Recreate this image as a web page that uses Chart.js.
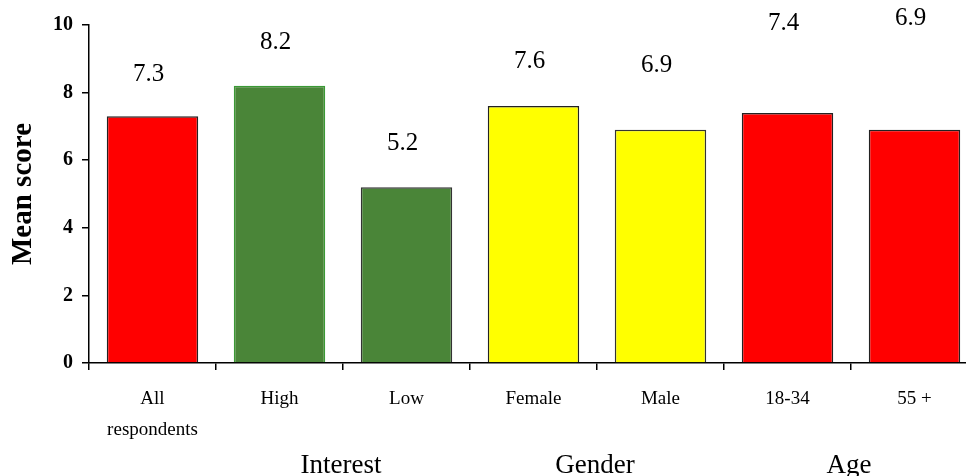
<!DOCTYPE html>
<html>
<head>
<meta charset="utf-8">
<script src="https://cdn.jsdelivr.net/npm/chart.js@4/dist/chart.umd.min.js"></script>
<style>
  html, body { margin: 0; padding: 0; background: #fff; overflow: hidden; }
  #wrap { width: 980px; height: 476px; }
</style>
</head>
<body>
<div id="wrap"><canvas id="chart"></canvas></div>
<script>
// categories and values
const categories = [["All", "respondents"], "High", "Low", "Female", "Male", "18-34", "55 +"];
const scores = [7.3, 8.2, 5.2, 7.6, 6.9, 7.4, 6.9];
const yTicks = [0, 2, 4, 6, 8, 10];

// where each value label sits, in score units (they float above the bars)
const labelAt = [8.55, 9.47, 6.51, 8.91, 8.79, 10.06, 10.19];

// group captions under the axis, with the category indexes they span
const groups = [
  { name: "Interest", from: 1, to: 2 },
  { name: "Gender", from: 3, to: 4 },
  { name: "Age", from: 5, to: 6 }
];

const barColors = ["#ff0000", "#4a8538", "#4a8538", "#ffff00", "#ffff00", "#ff0000", "#ff0000"];
const barBorders = ["#222", "#3a9a35", "#333", "#222", "#333", "#222", "#222"];

const SERIF = "'Liberation Serif', 'Times New Roman', serif";

// value labels + group captions
const extraText = {
  id: "extraText",
  afterDraw(chart) {
    const ctx = chart.ctx;
    const x = chart.scales.x;
    const y = chart.scales.y;
    ctx.save();
    ctx.fillStyle = "#000";
    ctx.textAlign = "center";
    ctx.textBaseline = "middle";
    ctx.font = "25px " + SERIF;
    scores.forEach((v, i) => {
      ctx.fillText(v.toFixed(1), x.getPixelForValue(i) - 4, y.getPixelForValue(labelAt[i]));
    });
    ctx.font = "27px " + SERIF;
    groups.forEach(g => {
      const cx = (x.getPixelForValue(g.from) + x.getPixelForValue(g.to)) / 2;
      ctx.fillText(g.name, cx - 2, chart.chartArea.bottom + 103);
    });
    ctx.restore();
  }
};

new Chart(document.getElementById("chart"), {
  type: "bar",
  data: {
    labels: categories,
    datasets: [{
      data: scores,
      backgroundColor: barColors,
      borderColor: barBorders,
      borderWidth: 1.5,
      categoryPercentage: 1,
      barPercentage: 0.72
    }]
  },
  options: {
    responsive: true,
    maintainAspectRatio: false,
    animation: false,
    layout: { padding: { top: 25, right: 2, left: 0, bottom: 0 } },
    plugins: {
      legend: { display: false },
      tooltip: { enabled: false }
    },
    scales: {
      x: {
        offset: true,
        afterFit(scale) { scale.height = 113; },
        border: { display: true, color: "#000", width: 1.5 },
        grid: {
          offset: true,
          drawOnChartArea: false,
          drawTicks: true,
          tickLength: 7,
          color: "#000",
          lineWidth: 1.5
        },
        ticks: {
          color: "#000",
          padding: 14,
          maxRotation: 0,
          autoSkip: false,
          font: { family: SERIF, size: 19, lineHeight: 1.62 }
        }
      },
      y: {
        min: 0,
        max: 10,
        afterFit(scale) { scale.width = 89; },
        afterBuildTicks(scale) { scale.ticks = yTicks.map(v => ({ value: v })); },
        border: { display: true, color: "#000", width: 1.5 },
        grid: {
          drawOnChartArea: false,
          drawTicks: true,
          tickLength: 7,
          color: "#000",
          lineWidth: 1.5
        },
        ticks: {
          color: "#000",
          padding: 9,
          font: { family: SERIF, size: 20, weight: "bold" }
        },
        title: {
          display: true,
          text: "Mean score",
          color: "#000",
          padding: { top: 6, bottom: 0 },
          font: { family: SERIF, size: 29, weight: "bold" }
        }
      }
    }
  },
  plugins: [extraText]
});
</script>
</body>
</html>
